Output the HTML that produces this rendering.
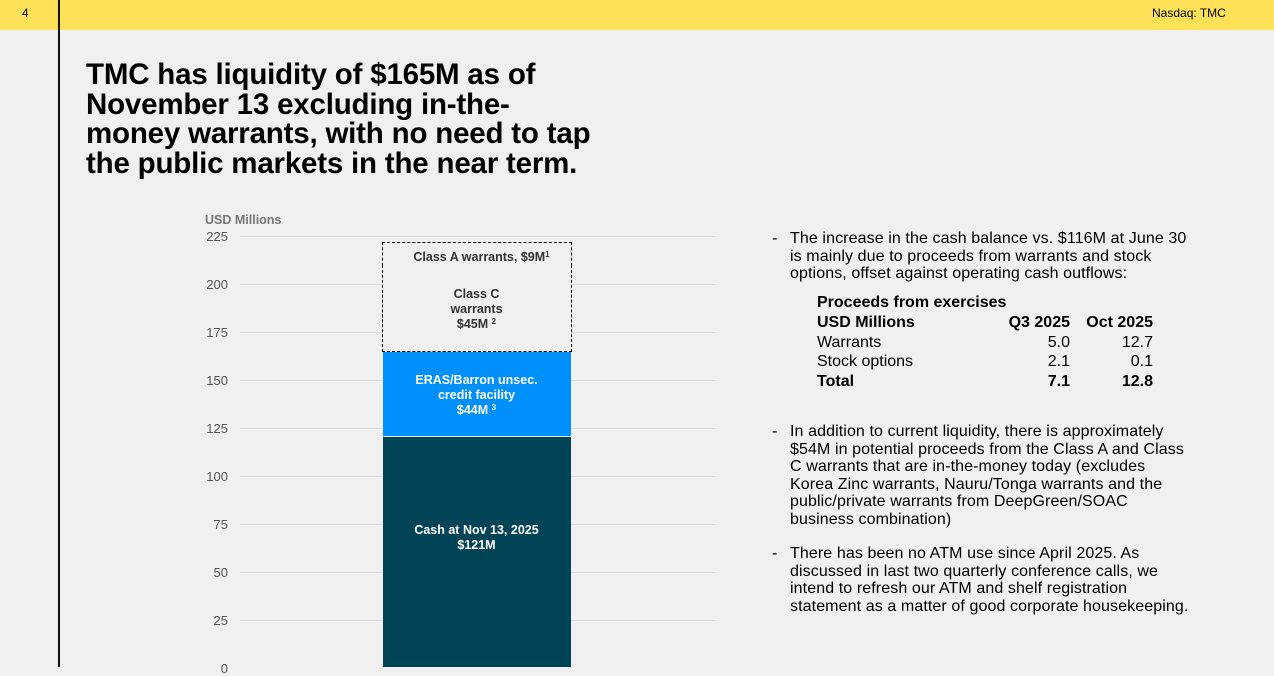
<!DOCTYPE html>
<html><head><meta charset="utf-8"><style>
*{margin:0;padding:0;box-sizing:border-box}
body{width:1274px;height:667px;overflow:hidden;background:#f0f0f0;font-family:"Liberation Sans",Arial,sans-serif;position:relative}
.a{position:absolute}
.top{left:0;top:0;width:1274px;height:30px;background:#fde258}
.vl{left:58px;top:0;width:2px;height:667px;background:#111}
.title{left:86px;top:60px;font-size:29.5px;font-weight:bold;line-height:29.5px;color:#000;letter-spacing:-0.2px}
.tick{font-size:13px;color:#555;width:40px;text-align:right}
.grid{left:240px;width:475px;height:1px;background:#d9d9d9}
.seg{left:382px;width:189px;text-align:center;font-weight:bold;font-size:12.5px;line-height:15px}
.txt{font-size:16px;line-height:17.5px;color:#000;letter-spacing:0.1px}
table{border-collapse:collapse;font-size:16px}
td{padding:0;height:19.8px;line-height:19.8px}
sup{font-size:8px;vertical-align:top;position:relative;top:-3px}
</style></head><body>
<div class="a top"></div>
<div class="a" style="left:22px;top:6px;font-size:12px">4</div>
<div class="a" style="left:1152px;top:6px;font-size:12px">Nasdaq: TMC</div>
<div class="a vl"></div>
<div class="a title">TMC has liquidity of $165M as of<br>November 13 excluding in-the-<br>money warrants, with no need to tap<br>the public markets in the near term.</div>

<div class="a" style="left:205px;top:213px;font-size:12.5px;font-weight:bold;color:#777">USD Millions</div>
<div class="a grid" style="top:236px"></div><div class="a tick" style="left:188px;top:229px">225</div>
<div class="a grid" style="top:284px"></div><div class="a tick" style="left:188px;top:277px">200</div>
<div class="a grid" style="top:332px"></div><div class="a tick" style="left:188px;top:325px">175</div>
<div class="a grid" style="top:380px"></div><div class="a tick" style="left:188px;top:373px">150</div>
<div class="a grid" style="top:428px"></div><div class="a tick" style="left:188px;top:421px">125</div>
<div class="a grid" style="top:476px"></div><div class="a tick" style="left:188px;top:469px">100</div>
<div class="a grid" style="top:524px"></div><div class="a tick" style="left:188px;top:517px">75</div>
<div class="a grid" style="top:572px"></div><div class="a tick" style="left:188px;top:565px">50</div>
<div class="a grid" style="top:620px"></div><div class="a tick" style="left:188px;top:613px">25</div>
<div class="a tick" style="left:188px;top:661px">0</div>

<div class="a" style="left:382px;top:242px;width:190px;height:24px;border:1px dashed #000;background:#f0f0f0"></div>
<div class="a" style="left:382px;top:265px;width:190px;height:87px;border:1px dashed #000;border-top:none;background:#f0f0f0"></div>
<div class="a seg" style="top:250px;color:#333;padding-left:10px">Class A warrants, $9M<sup>1</sup></div>
<div class="a seg" style="top:287px;color:#333">Class C<br>warrants<br>$45M <sup>2</sup></div>
<div class="a" style="left:383px;top:352px;width:188px;height:84px;background:#0090fc"></div>
<div class="a seg" style="top:373px;color:#fff">ERAS/Barron unsec.<br>credit facility<br>$44M <sup>3</sup></div>
<div class="a" style="left:383px;top:437px;width:188px;height:230px;background:#024457"></div>
<div class="a seg" style="top:523px;color:#fff">Cash at Nov 13, 2025<br>$121M</div>

<div class="a txt" style="left:772px;top:230px">-</div>
<div class="a txt" style="left:790px;top:230px;width:430px">The increase in the cash balance vs. $116M at June 30<br>is mainly due to proceeds from warrants and stock<br>options, offset against operating cash outflows:</div>
<table class="a" style="left:817px;top:293px">
<tr><td colspan="3" style="font-weight:bold">Proceeds from exercises</td></tr>
<tr style="font-weight:bold"><td style="width:175px">USD Millions</td><td style="width:78px;text-align:right">Q3 2025</td><td style="width:83px;text-align:right">Oct 2025</td></tr>
<tr><td>Warrants</td><td style="text-align:right">5.0</td><td style="text-align:right">12.7</td></tr>
<tr><td>Stock options</td><td style="text-align:right">2.1</td><td style="text-align:right">0.1</td></tr>
<tr style="font-weight:bold"><td>Total</td><td style="text-align:right">7.1</td><td style="text-align:right">12.8</td></tr>
</table>

<div class="a txt" style="left:772px;top:423px">-</div>
<div class="a txt" style="left:790px;top:423px;width:430px">In addition to current liquidity, there is approximately<br>$54M in potential proceeds from the Class A and Class<br>C warrants that are in-the-money today (excludes<br>Korea Zinc warrants, Nauru/Tonga warrants and the<br>public/private warrants from DeepGreen/SOAC<br>business combination)</div>

<div class="a txt" style="left:772px;top:545px">-</div>
<div class="a txt" style="left:790px;top:545px;width:430px">There has been no ATM use since April 2025. As<br>discussed in last two quarterly conference calls, we<br>intend to refresh our ATM and shelf registration<br>statement as a matter of good corporate housekeeping.</div>
</body></html>
